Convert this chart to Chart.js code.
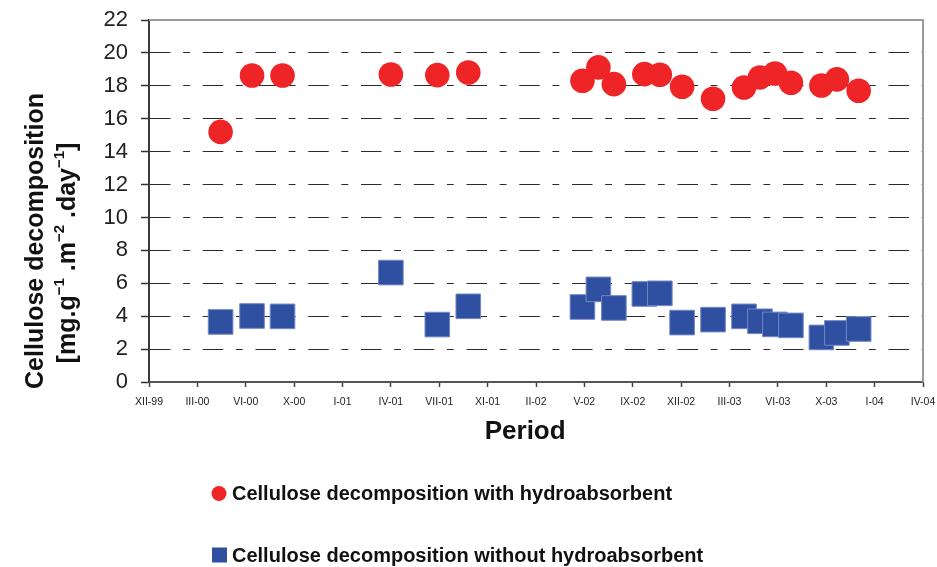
<!DOCTYPE html>
<html><head><meta charset="utf-8">
<script src="https://cdn.jsdelivr.net/npm/chart.js@4/dist/chart.umd.min.js"></script>
<style>html,body{margin:0;padding:0;background:#fff}#wrap{position:relative;width:937px;height:567px}</style>
</head><body><div id="wrap"><canvas id="c"></canvas></div>
<script>
// Tick labels along the period axis (one per tick, index positions 0..16)
const periodLabels = ['XII-99','III-00','VI-00','X-00','I-01','IV-01','VII-01','XI-01','II-02','V-02','IX-02','XII-02','III-03','VI-03','X-03','I-04','IV-04'];
// Sampling positions (in tick-index units)
const samplePositions = [1.48, 2.13, 2.76, 5.0, 5.96, 6.6, 8.96, 9.29, 9.61, 10.24, 10.56, 11.02, 11.66, 12.3, 12.63, 12.94, 13.27, 13.9, 14.22, 14.67];
// Cellulose decomposition with hydroabsorbent
const withHydro = [15.2, 18.63, 18.63, 18.69, 18.65, 18.81, 18.31, 19.12, 18.1, 18.71, 18.67, 17.94, 17.21, 17.9, 18.51, 18.75, 18.19, 18.02, 18.39, 17.7];
// Cellulose decomposition without hydroabsorbent
const withoutHydro = [3.65, 4.01, 3.99, 6.65, 3.49, 4.6, 4.56, 5.63, 4.5, 5.35, 5.39, 3.61, 3.79, 3.99, 3.69, 3.5, 3.44, 2.71, 2.98, 3.22];
const seriesNames = ['Cellulose decomposition with hydroabsorbent', 'Cellulose decomposition without hydroabsorbent'];
const yTitle = 'Cellulose decomposition';
const xTitle = 'Period';

const FONT = "'Liberation Sans', Arial, Helvetica, sans-serif";
const RED = '#EE2427';
const BLUE = '#2F4FA1';

const toPts = (ys) => samplePositions.map((x, i) => ({x: x, y: ys[i]}));

const framePlugin = {
  id: 'frame',
  beforeDatasetsDraw(chart) {
    const {ctx, chartArea: a} = chart;
    ctx.save();
    ctx.strokeStyle = '#9a9a9a';
    ctx.lineWidth = 2;
    ctx.beginPath();
    ctx.moveTo(a.left, a.top);
    ctx.lineTo(a.right, a.top);
    ctx.lineTo(a.right, a.bottom);
    ctx.stroke();
    ctx.restore();
  },
  afterDraw(chart) {
    const {ctx} = chart;
    ctx.save();
    ctx.fillStyle = '#111';
    // Y axis title, line 1
    ctx.save();
    ctx.translate(43, 241);
    ctx.rotate(-Math.PI / 2);
    ctx.font = 'bold 25px ' + FONT;
    ctx.textAlign = 'center';
    ctx.textBaseline = 'alphabetic';
    ctx.fillText(yTitle, 0, 0);
    ctx.restore();
    // Y axis title, line 2 with superscripts
    const segs = [
      ['[mg.g', false], ['\u22121', true], [' .m', false], ['\u22122', true],
      [' .day', false], ['\u22121', true], [']', false]
    ];
    const big = 'bold 25px ' + FONT, small = 'bold 15px ' + FONT;
    let total = 0;
    segs.forEach(s => { ctx.font = s[1] ? small : big; total += ctx.measureText(s[0]).width; });
    ctx.save();
    ctx.translate(75, 253);
    ctx.rotate(-Math.PI / 2);
    ctx.textAlign = 'left';
    let xx = -total / 2;
    segs.forEach(s => {
      ctx.font = s[1] ? small : big;
      ctx.fillText(s[0], xx, s[1] ? -11 : 0);
      xx += ctx.measureText(s[0]).width;
    });
    ctx.restore();
    // Legend
    ctx.font = 'bold 20px ' + FONT;
    ctx.textAlign = 'left';
    ctx.textBaseline = 'alphabetic';
    ctx.fillStyle = RED;
    ctx.beginPath();
    ctx.arc(219, 493.5, 7.5, 0, Math.PI * 2);
    ctx.fill();
    ctx.fillStyle = '#111';
    ctx.fillText(seriesNames[0], 232, 500);
    ctx.fillStyle = BLUE;
    ctx.fillRect(212, 547.5, 15, 15);
    ctx.fillStyle = '#111';
    ctx.fillText(seriesNames[1], 232, 562);
    ctx.restore();
  }
};

new Chart(document.getElementById('c'), {
  type: 'scatter',
  data: {
    datasets: [
      {
        label: seriesNames[1],
        data: toPts(withoutHydro),
        pointStyle: 'rect',
        pointRadius: 17.4,
        pointHoverRadius: 17.4,
        backgroundColor: BLUE,
        borderColor: '#7188c6',
        borderWidth: 1,
        clip: false
      },
      {
        label: seriesNames[0],
        data: toPts(withHydro),
        pointStyle: 'circle',
        pointRadius: 12.3,
        pointHoverRadius: 12.3,
        backgroundColor: RED,
        borderColor: RED,
        borderWidth: 0,
        clip: false
      }
    ]
  },
  options: {
    responsive: true,
    maintainAspectRatio: false,
    animation: false,
    events: [],
    layout: {autoPadding: false, padding: {left: 0, right: 14, top: 20, bottom: 120}},
    plugins: {legend: {display: false}, tooltip: {enabled: false}, title: {display: false}},
    scales: {
      x: {
        type: 'linear',
        min: 0, max: 16,
        afterFit: (s) => { s.height = 65; s.paddingLeft = 0; s.paddingRight = 0; },
        afterBuildTicks: (s) => { s.ticks = periodLabels.map((_, i) => ({value: i})); },
        ticks: {
          autoSkip: false, maxRotation: 0, minRotation: 0,
          padding: 9,
          color: '#222',
          font: {family: FONT, size: 10.5},
          callback: (v) => periodLabels[v]
        },
        grid: {drawOnChartArea: false, drawTicks: true, tickLength: 5, tickColor: '#444', tickWidth: 1.5},
        border: {display: true, color: '#555', width: 2},
        title: {display: true, text: xTitle + '\u00A0\u00A0\u00A0', color: '#111', padding: 0, font: {family: FONT, size: 26, weight: 'bold'}}
      },
      y: {
        min: 0, max: 22,
        afterFit: (s) => { s.width = 149; s.paddingTop = 0; s.paddingBottom = 0; },
        ticks: {stepSize: 2, padding: 13, color: '#222', font: {family: FONT, size: 22}},
        grid: {
          color: (c) => (c.tick && (c.tick.value === 0 || c.tick.value === 22)) ? 'rgba(0,0,0,0)' : '#2a2a2a',
          lineWidth: 1,
          drawTicks: true, tickLength: 8, tickColor: '#333', tickWidth: 1.5
        },
        border: {display: true, color: '#3a3a3a', width: 2, dash: [20.5, 12.7, 6.8, 12.75], dashOffset: 0},
        title: {display: false}
      }
    }
  },
  plugins: [framePlugin]
});
</script>
</body></html>
